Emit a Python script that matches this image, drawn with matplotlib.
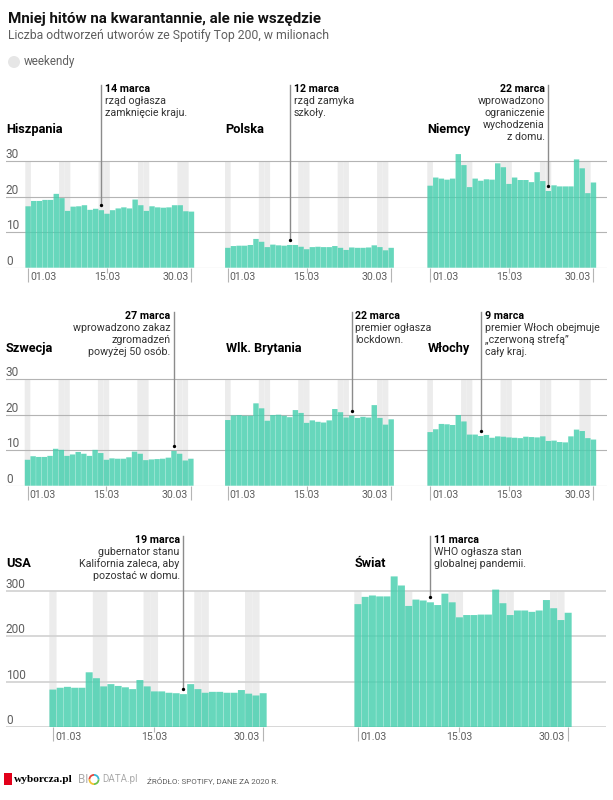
import matplotlib
matplotlib.use("Agg")
import matplotlib.pyplot as plt
import numpy as np
from matplotlib.patches import Circle, Rectangle, Wedge
from matplotlib.transforms import ScaledTranslation

W, H = 613, 800

# --- data (1-30 March, millions of plays) ---
HISZPANIA = [17.3, 18.8, 18.8, 19.1, 19.1, 20.8, 19.6, 16.0, 17.2, 17.3, 17.6, 16.3, 16.6, 16.2, 15.2,
             16.2, 16.7, 17.0, 16.7, 19.2, 17.6, 16.0, 17.3, 17.0, 16.9, 17.0, 17.6, 17.6, 15.9, 15.8]
POLSKA = [5.6, 6.1, 6.2, 6.2, 6.4, 8.1, 7.3, 5.8, 6.5, 6.3, 6.2, 6.4, 6.4, 5.9, 5.2,
          5.8, 5.9, 5.8, 5.8, 6.1, 5.6, 5.0, 5.7, 5.6, 5.6, 5.7, 6.3, 5.8, 4.9, 5.6]
NIEMCY = [23.1, 25.4, 25.1, 24.8, 25.1, 32.0, 28.9, 22.7, 25.1, 24.5, 24.9, 24.8, 29.4, 28.3, 23.6,
          25.4, 24.7, 24.7, 24.1, 26.9, 24.4, 21.6, 23.2, 22.9, 22.9, 22.9, 30.5, 28.0, 21.0, 24.0]
SZWECJA = [7.3, 8.3, 8.1, 8.1, 8.4, 10.4, 10.1, 8.4, 8.8, 9.5, 9.0, 8.4, 10.1, 9.2, 7.3,
           7.7, 7.6, 7.6, 8.0, 9.6, 9.0, 7.2, 7.4, 7.5, 7.6, 7.9, 9.8, 9.0, 7.1, 7.6]
BRYTANIA = [18.5, 19.8, 19.9, 19.7, 19.7, 23.2, 21.8, 18.3, 19.9, 20.0, 19.7, 19.3, 21.3, 20.5, 17.7,
            18.4, 18.0, 17.8, 18.4, 21.6, 20.7, 19.2, 19.7, 19.1, 19.4, 19.2, 22.7, 19.1, 17.2, 18.7]
WLOCHY = [15.1, 15.9, 17.4, 17.3, 17.1, 19.9, 18.1, 14.4, 14.4, 14.0, 14.3, 13.5, 13.9, 13.8, 13.6,
          13.5, 13.4, 13.8, 13.7, 13.6, 13.9, 12.6, 12.7, 12.3, 12.2, 13.9, 15.8, 15.4, 13.4, 13.0]
USA = [83, 87, 89, 87, 87, 121, 108, 90, 95, 91, 88, 84, 104, 90, 79,
       79, 76, 75, 73, 95, 84, 76, 78, 78, 76, 76, 82, 74, 70, 75]
SWIAT = [271, 287, 290, 288, 288, 332, 312, 267, 281, 279, 275, 269, 294, 275, 242,
         247, 247, 248, 248, 303, 273, 247, 257, 257, 254, 257, 280, 262, 236, 252]

WEEKEND_DAYS = [0, 6, 7, 13, 14, 20, 21, 27, 28]
TICK_DAYS = [0, 14, 29]
TICK_LABELS = ["01.03", "15.03", "30.03"]
Y_SMALL = [0, 10, 20, 30]
Y_BIG = [0, 100, 200, 300]

# --- colours and fonts ---
SANS = ["Roboto", "DejaVu Sans"]
COLOR_BAR = "#45cfae"
COLOR_WEEKEND = "#ececec"
COLOR_TEXT = "#5f5f5f"
COLOR_NOTE = "#333333"

plt.rcParams["font.family"] = SANS

fig = plt.figure(figsize=(W / 100, H / 100), dpi=100, facecolor="white")


def px_text(x, y, s, **kw):
    """Figure text placed in reference pixels (y counted from the top)."""
    return fig.text(x / W, 1 - y / H, s, **kw)


def px_rect(x0, y0, x1, y1, **kw):
    fig.add_artist(Rectangle((x0 / W, 1 - y1 / H), (x1 - x0) / W, (y1 - y0) / H,
                             transform=fig.transFigure, **kw))


def panel(cell, bar_left, bar_w, base, top, scale, yticks, values, name, name_x, name_y,
          day, note, side, first, grid_lw, grid_col):
    """One small multiple. cell = (left, right) px, scale = px per data unit."""
    ymax = (base - top) / scale
    ax = fig.add_axes([cell[0] / W, 1 - base / H, (cell[1] - cell[0]) / W, (base - top) / H])
    ax.patch.set_visible(False)
    ax.set_xlim((cell[0] - bar_left) / bar_w - 0.5, (cell[1] - bar_left) / bar_w - 0.5)
    ax.set_ylim(0, ymax)
    for s in ax.spines.values():
        s.set_visible(False)

    days = np.arange(len(values))
    for r in ax.bar(WEEKEND_DAYS, yticks[-1], width=1.0, color=COLOR_WEEKEND, zorder=0.1):
        r.set_snap(False)
    ax.set_axisbelow(True)
    ax.yaxis.grid(True, color=grid_col, lw=grid_lw, zorder=0.5)
    # no snapping, otherwise the gaps between the bars come out uneven
    for r in ax.bar(days, values, width=0.96, color=COLOR_BAR, alpha=0.82, lw=0, zorder=2):
        r.set_snap(False)

    # y labels sit on top of the grid lines, only in the first panel of a row
    ax.set_yticks(yticks)
    ax.tick_params(axis="y", length=0, pad=0, labelleft=first, labelsize=8.6, labelcolor=COLOR_TEXT)
    for lab in ax.get_yticklabels():
        lab.set_ha("left")
        lab.set_va("bottom")
        lab.set_x(0)

    ax.set_xticks(TICK_DAYS, TICK_LABELS)
    ax.tick_params(axis="x", length=10, width=0.8, color="#b5b5b5", pad=-6.6,
                   labelsize=7.6, labelcolor=COLOR_TEXT)
    ax.xaxis.get_major_ticks()[1].tick1line.set_markersize(3.5)
    for lab, ha, dx in zip(ax.get_xticklabels(), ["left", "center", "right"], [2, 0, -3]):
        lab.set_ha(ha)
        lab.set_transform(lab.get_transform() + ScaledTranslation(dx / 100, 0, fig.dpi_scale_trans))

    px_text(name_x, name_y, name, fontsize=9.2, fontweight="bold", color="black", va="center")

    # event marker: grey stem from the top of the panel down to a dot above the bar
    dot_y = values[day] + 5 / scale
    ax.plot([day, day], [dot_y, ymax], color="#8c8c8c", lw=1.0, zorder=3, clip_on=False)
    ax.plot(day, dot_y, "o", color="black", ms=2.4, mew=0, zorder=4, clip_on=False)
    ha = "left" if side > 0 else "right"
    for i, line in enumerate(note):
        ax.annotate(line, xy=(day, ymax), xytext=(side * 2.7, -(7 + 12 * i) * 0.72),
                    textcoords="offset points", ha=ha, va="baseline", annotation_clip=False,
                    fontsize=7.7, color="black" if i == 0 else COLOR_NOTE,
                    fontweight="bold" if i == 0 else "normal")


# --- top row ---
row1 = dict(bar_w=5.633, base=267.7, top=85, scale=3.55, yticks=Y_SMALL, grid_lw=0.8, grid_col="#b4b4b4")
panel((6, 210), 25.3, values=HISZPANIA, name="Hiszpania", name_x=6, name_y=129.3, day=13, side=1, first=True,
      note=["14 marca", "rząd ogłasza", "zamknięcie kraju."], **row1)
panel((210, 410), 225, values=POLSKA, name="Polska", name_x=225.7, name_y=129.3, day=11, side=1, first=False,
      note=["12 marca", "rząd zamyka", "szkoły."], **row1)
panel((410, 607), 427.3, values=NIEMCY, name="Niemcy", name_x=427.7, name_y=129.3, day=21, side=-1, first=False,
      note=["22 marca", "wprowadzono", "ograniczenie", "wychodzenia", "z domu."], **row1)

# --- middle row ---
row2 = dict(bar_w=5.633, base=485.7, top=311.7, scale=3.55, yticks=Y_SMALL, grid_lw=0.8, grid_col="#b4b4b4")
panel((6, 210), 24.7, values=SZWECJA, name="Szwecja", name_x=6, name_y=348.7, day=26, side=-1, first=True,
      note=["27 marca", "wprowadzono zakaz", "zgromadzeń", "powyżej 50 osób."], **row2)
panel((210, 410), 225, values=BRYTANIA, name="Wlk. Brytania", name_x=225.7, name_y=348.7, day=22, side=1, first=False,
      note=["22 marca", "premier ogłasza", "lockdown."], **row2)
panel((410, 607), 427.3, values=WLOCHY, name="Włochy", name_x=427.7, name_y=348.7, day=9, side=1, first=False,
      note=["9 marca", "premier Włoch obejmuje", "„czerwoną strefą”", "cały kraj."], **row2)

# --- bottom row ---
row3 = dict(bar_w=7.25, base=727.3, top=535.7, scale=0.4545, yticks=Y_BIG, grid_lw=1.3, grid_col="#d4d4d4")
panel((6, 310), 49.3, values=USA, name="USA", name_x=6, name_y=563.7, day=18, side=-1, first=True,
      note=["19 marca", "gubernator stanu", "Kalifornia zaleca, aby", "pozostać w domu."], **row3)
panel((310, 606), 354.3, values=SWIAT, name="Świat", name_x=354.3, name_y=563.7, day=10, side=1, first=False,
      note=["11 marca", "WHO ogłasza stan", "globalnej pandemii."], **row3)

# --- header ---
px_text(8, 18.5, "Mniej hitów na kwarantannie, ale nie wszędzie", fontsize=10.9, fontweight="bold",
        color="#111111", va="center")
px_text(8, 36, "Liczba odtworzeń utworów ze Spotify Top 200, w milionach", fontsize=8.8,
        color=COLOR_TEXT, va="center")
fig.add_artist(Circle((0.14, (H - 62) / 100), 0.06, transform=fig.dpi_scale_trans, color="#e6e6e6", lw=0))
px_text(24, 62, "weekendy", fontsize=8.4, color=COLOR_TEXT, va="center")

# --- footer ---
px_rect(3.7, 773, 11.7, 784.5, color="#e2001a", lw=0)
px_text(14, 780, "wyborcza.pl", family=["Liberation Serif"], fontsize=8.2, fontweight="bold", color="black", va="center")
px_text(78, 779.5, "BI", fontsize=8.4, color="#aaaaaa", va="center")
px_text(102, 779.5, "DATA.pl", fontsize=7.0, color="#aaaaaa", va="center")
for start, col in zip([0, 90, 180, 270], ["#35b6d6", "#e2443b", "#f2c230", "#6cc24a"]):
    fig.add_artist(Wedge((0.94, (H - 779.5) / 100), 0.055, start, start + 90, width=0.018,
                         transform=fig.dpi_scale_trans, color=col, lw=0))
px_text(147, 780, "ŹRÓDŁO: SPOTIFY, DANE ZA 2020 R.", fontsize=5.8, color=COLOR_TEXT, va="center")

fig.savefig("out.png", dpi=100, facecolor="white")
